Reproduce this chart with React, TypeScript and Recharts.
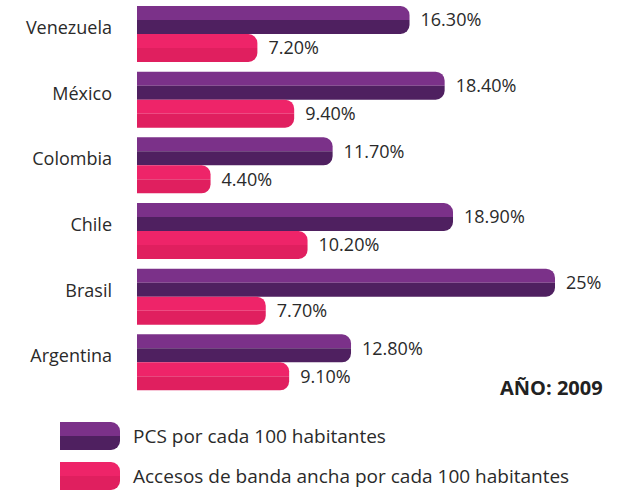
import React from 'react'
import { BarChart, Bar, XAxis, YAxis, LabelList } from 'recharts'

const countries = ['Venezuela', 'México', 'Colombia', 'Chile', 'Brasil', 'Argentina']
const pcs = [16.3, 18.4, 11.7, 18.9, 25, 12.8]
const banda = [7.2, 9.4, 4.4, 10.2, 7.7, 9.1]
const seriesNames = ['PCS por cada 100 habitantes', 'Accesos de banda ancha por cada 100 habitantes']

const data = countries.map((c, i) => ({ country: c, pcs: pcs[i], banda: banda[i] }))

const FONT = '"Open Sans", "Noto Sans", sans-serif'
const PURPLE = ['#7b3189', '#4f2060']
const PINK = ['#ee2469', '#e01f5f']
const TEXT = '#2a2a2a'

function fmt(v: number) {
  return Number.isInteger(v) ? `${v}%` : `${v.toFixed(2)}%`
}

function twoTonePaths(x: number, y: number, w: number, h: number, r: number) {
  const rr = Math.min(r, w, h / 2)
  const mid = y + h / 2
  const top = `M${x},${y} H${x + w - rr} A${rr},${rr} 0 0 1 ${x + w},${y + rr} V${mid} H${x} Z`
  const bottom = `M${x},${mid} H${x + w} V${y + h - rr} A${rr},${rr} 0 0 1 ${x + w - rr},${y + h} H${x} Z`
  return { top, bottom }
}

function makeShape(colors: string[]) {
  return (props: any) => {
    const { x, y, width, height } = props
    if (!width || width <= 0) return null
    const p = twoTonePaths(x, y, width, height, 9)
    return (
      <g>
        <path d={p.top} fill={colors[0]} />
        <path d={p.bottom} fill={colors[1]} />
      </g>
    )
  }
}

function CountryTick({ x, y, payload }: any) {
  return (
    <text x={x - 25} y={y - 7} textAnchor="end" dominantBaseline="central" fontSize={18} fill={TEXT} fontFamily={FONT}>
      {payload.value}
    </text>
  )
}

function Swatch({ colors }: { colors: string[] }) {
  const p = twoTonePaths(0, 0, 60, 28, 9)
  return (
    <svg width={60} height={28} style={{ display: 'block' }}>
      <path d={p.top} fill={colors[0]} />
      <path d={p.bottom} fill={colors[1]} />
    </svg>
  )
}

export default function App() {
  return (
    <div style={{ position: 'absolute', left: 0, top: 0, width: 620, height: 490, background: '#fff', fontFamily: FONT }}>
      <BarChart
        layout="vertical"
        width={620}
        height={396}
        data={data}
        margin={{ top: 1, right: 65, bottom: 1, left: 0 }}
        barGap={0}
      >
        <XAxis type="number" domain={[0, 25]} hide />
        <YAxis
          type="category"
          dataKey="country"
          width={137}
          axisLine={false}
          tickLine={false}
          tickSize={0}
          tickMargin={0}
          tick={<CountryTick />}
        />
        <Bar dataKey="pcs" name={seriesNames[0]} barSize={28} shape={makeShape(PURPLE)} isAnimationActive={false}>
          <LabelList dataKey="pcs" position="right" offset={11} formatter={(v: any) => fmt(v)} fill={TEXT} fontSize={18} fontFamily={FONT} />
        </Bar>
        <Bar dataKey="banda" name={seriesNames[1]} barSize={28} shape={makeShape(PINK)} isAnimationActive={false}>
          <LabelList dataKey="banda" position="right" offset={11} formatter={(v: any) => fmt(v)} fill={TEXT} fontSize={18} fontFamily={FONT} />
        </Bar>
      </BarChart>
      <div style={{ position: 'absolute', left: 500, top: 375, fontSize: 20, fontWeight: 700, color: '#222', lineHeight: '26px' }}>
        AÑO: 2009
      </div>
      {seriesNames.map((name, i) => (
        <div key={name} style={{ position: 'absolute', left: 60, top: i === 0 ? 422 : 462, display: 'flex', alignItems: 'center' }}>
          <Swatch colors={i === 0 ? PURPLE : PINK} />
          <span style={{ marginLeft: 13, fontSize: 19, color: TEXT, lineHeight: '28px' }}>{name}</span>
        </div>
      ))}
    </div>
  )
}
